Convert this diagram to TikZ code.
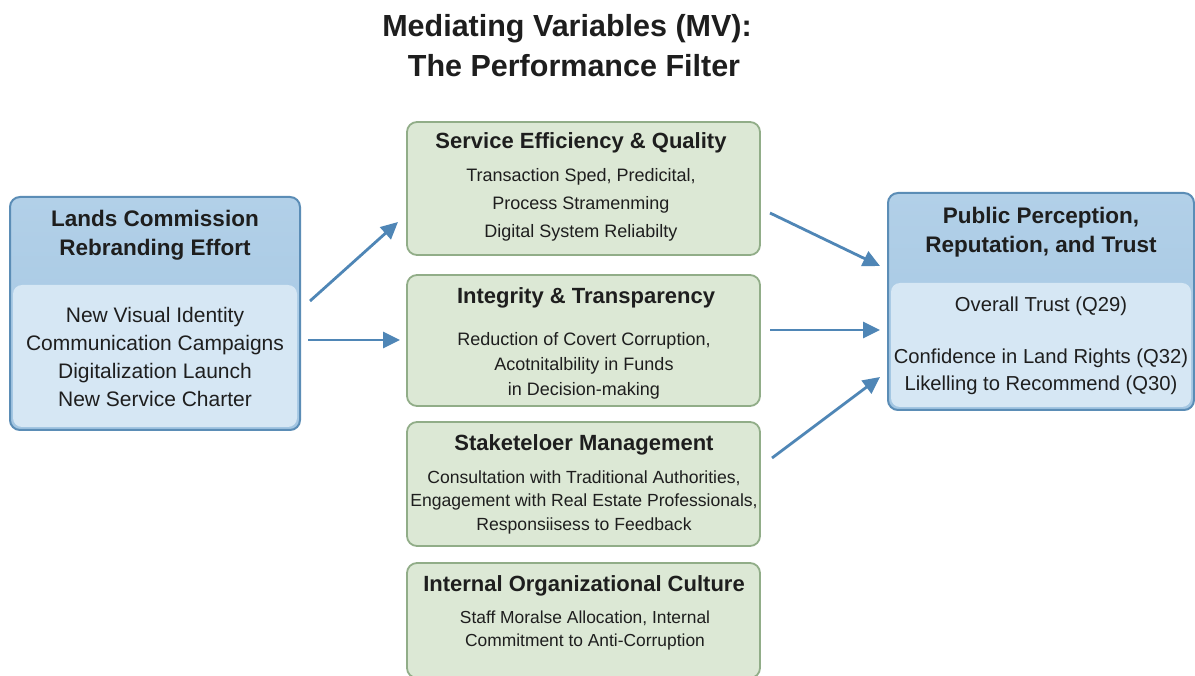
\documentclass[tikz,border=0pt]{standalone}
\usepackage{fontspec}
\setmainfont{Liberation Sans}
\usetikzlibrary{arrows.meta}
\definecolor{bluebd}{HTML}{5B8DB6}
\definecolor{bluehd}{HTML}{A3C6E2}
\definecolor{bluehdtop}{HTML}{B2D0E8}
\definecolor{bluelow}{HTML}{D6E7F4}
\definecolor{greenbd}{HTML}{91AD88}
\definecolor{greenfill}{HTML}{DCE8D5}
\definecolor{arrowblue}{HTML}{4F86B6}
\definecolor{inktext}{HTML}{1E1E1E}
\tikzset{
  x=1pt, y=-1pt,
  outerbox/.style={draw=bluebd, line width=2pt, rounded corners=10pt,
    top color=bluehdtop, bottom color=bluehd},
  lowpanel/.style={fill=bluelow, rounded corners=9pt},
  greenbox/.style={draw=greenbd, line width=1.8pt, rounded corners=10pt, fill=greenfill},
  titletext/.style={font=\fontsize{30.5}{38}\selectfont\bfseries, text=inktext},
  headtext/.style={font=\fontsize{22.5}{29}\selectfont\bfseries, text=inktext, align=center},
  bodytext/.style={font=\fontsize{21}{27.7}\selectfont, text=inktext, align=center},
  righttext/.style={font=\fontsize{20.2}{27}\selectfont, text=inktext, align=center},
  gtitle/.style={font=\fontsize{22}{24}\selectfont\bfseries, text=inktext, align=center},
  gbody/.style={font=\fontsize{18}{#1}\selectfont, text=inktext, align=center},
  gbody/.default=26,
  flow/.style={draw=arrowblue, line width=2.8pt, -{Triangle[length=17pt,width=16pt]}},
}
\begin{document}
\begin{tikzpicture}
\useasboundingbox (0,0) rectangle (1195,676);
\fill[white] (0,0) rectangle (1195,676);

% title
\node[titletext] (title1) at (567,29) {Mediating Variables (MV):};
\node[titletext] (title2) at (574,66) {The Performance Filter};

% left box: rebranding effort
\path[outerbox] (10,197) rectangle (300,430);
\path[lowpanel] (13,285) rectangle (297,427);
\node[headtext] (lhead) at (155,235) {Lands Commission\\Rebranding Effort};
\node[bodytext] (lbody) at (155,357) {New Visual Identity\\Communication Campaigns\\Digitalization Launch\\New Service Charter};
\coordinate (lout1) at (310,301);
\coordinate (lout2) at (308,340);

% right box: outcome
\path[outerbox] (888,193) rectangle (1194,410);
\path[lowpanel] (891,283) rectangle (1191,407);
\node[headtext] (rhead) at (1041,232) {Public Perception,\\Reputation, and Trust};
\node[righttext] (rbody1) at (1041,306) {Overall Trust (Q29)};
\node[righttext] (rbody2) at (1041,372) {Confidence in Land Rights (Q32)\\Likelling to Recommend (Q30)};

% mediating variables
\path[greenbox] (407,122) rectangle (760,255);
\node[gtitle] (m1t) at (581,143) {Service Efficiency \& Quality};
\node[gbody=28] (m1b) at (581,205) {Transaction Sped, Predicital,\\Process Stramenming\\Digital System Reliabilty};

\path[greenbox] (407,275) rectangle (760,406);
\node[gtitle] (m2t) at (586,298) {Integrity \& Transparency};
\node[gbody=25] (m2b) at (584,366) {Reduction of Covert Corruption,\\Acotnitalbility in Funds\\in Decision-making};

\path[greenbox] (407,422) rectangle (760,546);
\node[gtitle] (m3t) at (584,445) {Staketeloer Management};
\node[gbody=23.5, font=\fontsize{17.6}{23.5}\selectfont] (m3b) at (584,502) {Consultation with Traditional Authorities,\\Engagement with Real Estate Professionals,\\Responsiisess to Feedback};

\path[greenbox] (407,563) rectangle (760,678);
\node[gtitle] (m4t) at (584,586) {Internal Organizational Culture};
\node[gbody=23, font=\fontsize{17.4}{23}\selectfont] (m4b) at (585,630) {Staff Moralse Allocation, Internal\\Commitment to Anti-Corruption};

% connector end points
\coordinate (m1in) at (398,222);
\coordinate (m2in) at (400,340);
\coordinate (m1out) at (770,213);
\coordinate (m2out) at (770,330);
\coordinate (m3out) at (772,458);
\coordinate (rin1) at (880,266);
\coordinate (rin2) at (880,330);
\coordinate (rin3) at (880,377);

\draw[flow] (lout1) -- (m1in);
\draw[flow] (lout2) -- (m2in);
\draw[flow] (m1out) -- (rin1);
\draw[flow] (m2out) -- (rin2);
\draw[flow] (m3out) -- (rin3);
\end{tikzpicture}
\end{document}
